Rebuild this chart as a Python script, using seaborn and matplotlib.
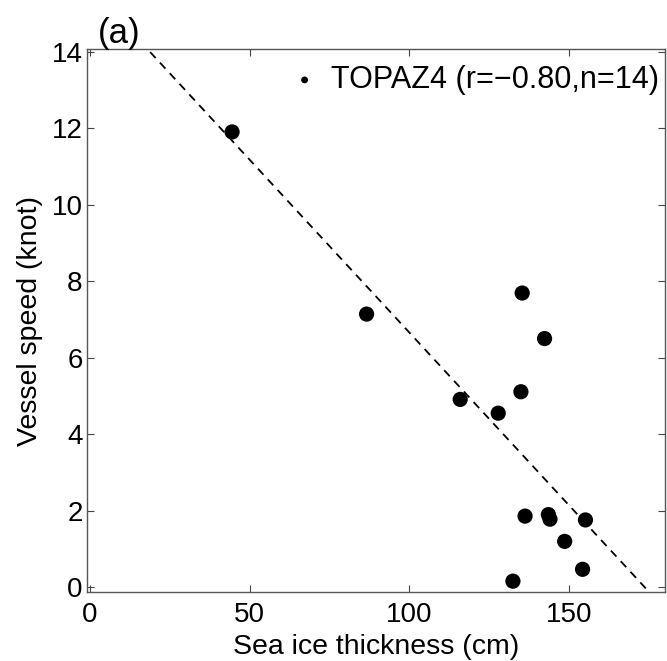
import numpy as np
import pandas as pd
import matplotlib
matplotlib.use('Agg')
import matplotlib.pyplot as plt
import seaborn as sns

# sea ice thickness (cm) and vessel speed (knot)
ice_thickness = [44.5, 86.6, 115.9, 127.8, 134.9, 135.3, 142.3,
                 136.2, 143.5, 144.0, 155.1, 148.6, 154.2, 132.4]
vessel_speed = [11.9, 7.14, 4.91, 4.55, 5.11, 7.69, 6.50,
                1.86, 1.90, 1.78, 1.76, 1.20, 0.47, 0.16]
legend_label = 'TOPAZ4 (r=\u22120.80,n=14)'

df = pd.DataFrame({'thick': ice_thickness, 'speed': vessel_speed})

sns.set_style('ticks')
plt.rcParams['font.family'] = ['Liberation Sans', 'DejaVu Sans']
plt.rcParams['axes.linewidth'] = 1.0
plt.rcParams['text.color'] = 'black'
plt.rcParams['axes.labelcolor'] = 'black'

fig = plt.figure(figsize=(6.67, 6.61), dpi=100)
ax = fig.add_axes([0.130, 0.104, 0.867, 0.822])
ax.set_xlim(-1, 180)
ax.set_ylim(-0.13, 14.07)

# least-squares fit, dashed, spanning the whole x range
sns.regplot(data=df, x='thick', y='speed', scatter=False, ci=None,
            truncate=False, color='black',
            line_kws=dict(ls='--', lw=1.3, dashes=(4.5, 3.5)), ax=ax)
sns.scatterplot(data=df, x='thick', y='speed', color='black', s=120,
                edgecolor='none', label=legend_label, ax=ax)

ax.set_xticks([0, 50, 100, 150])
ax.set_yticks(np.arange(0, 15, 2))
ax.tick_params(direction='in', length=5, width=0.8, top=True, right=True,
               labelsize=20, pad=3, colors='#444444', labelcolor='black')
ax.tick_params(axis='x', pad=7)
for sp in ax.spines.values():
    sp.set_color('#555555')

ax.set_xlabel('Sea ice thickness (cm)', fontsize=20.5, va='top')
ax.set_ylabel('Vessel speed (knot)', fontsize=20.5)
ax.xaxis.set_label_coords(0.5, -0.077)
ax.yaxis.set_label_coords(-0.076, 0.5)

leg = ax.legend(loc='upper right', frameon=False, fontsize=22,
                markerscale=0.45, handletextpad=0.35, borderaxespad=0.0,
                handlelength=1.0, bbox_to_anchor=(1.01, 0.993))

fig.text(0.146, 0.935, '(a)', fontsize=25, ha='left', va='baseline')

fig.savefig('out.png', dpi=100)
